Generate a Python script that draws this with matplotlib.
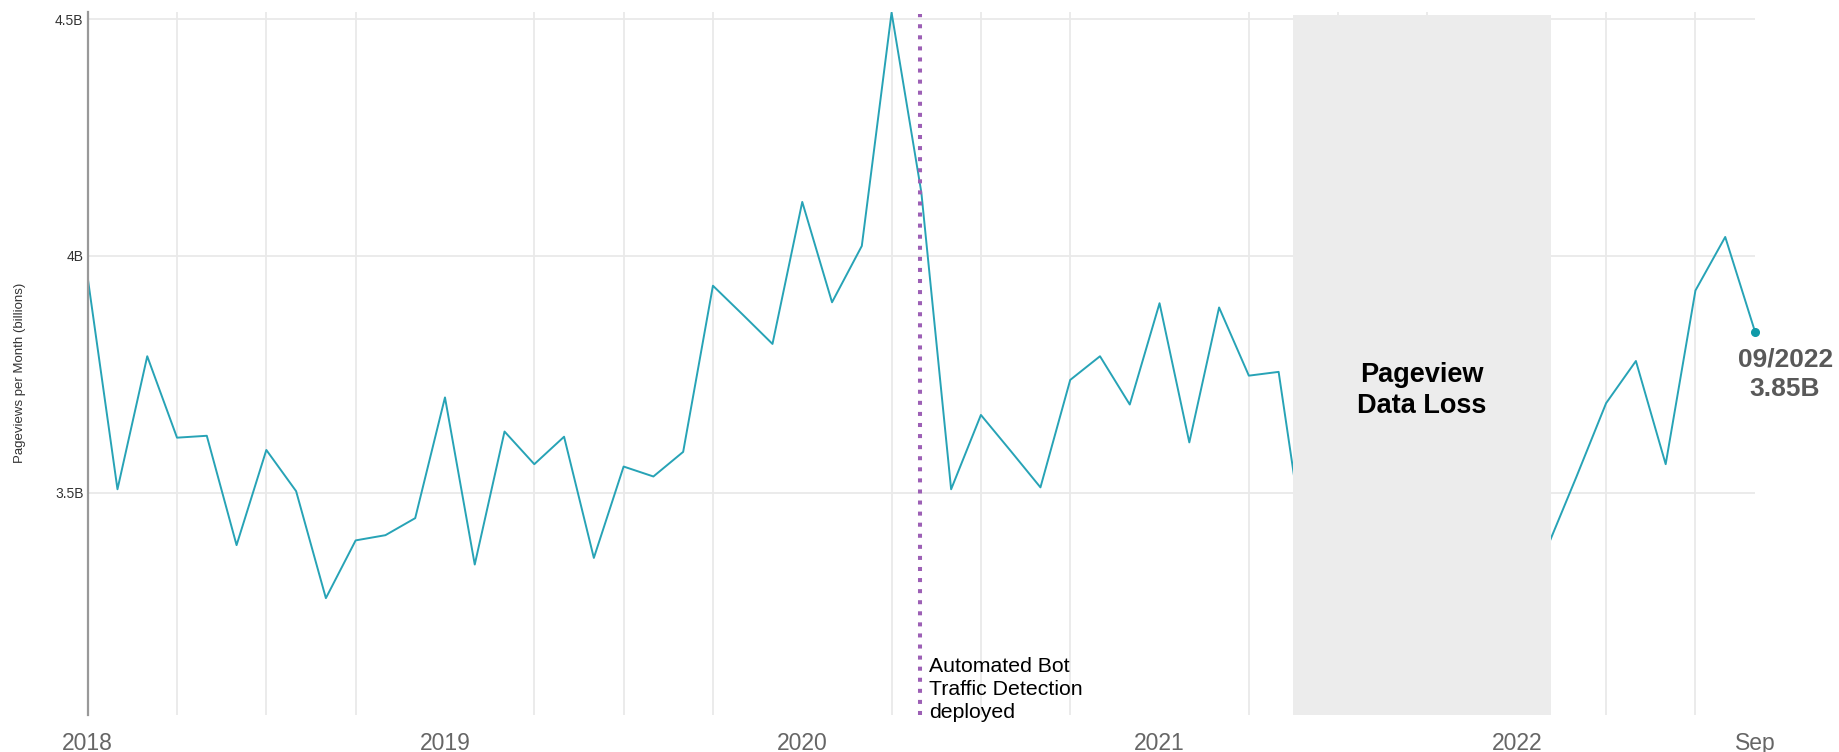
import numpy as np
import matplotlib
matplotlib.use("Agg")
import matplotlib.pyplot as plt
from matplotlib.patches import Rectangle

plt.rcParams['font.family'] = ['Liberation Sans', 'DejaVu Sans']

# ---- data (billions of pageviews per month) ----
months = ['2018-01', '2018-02', '2018-03', '2018-04', '2018-05', '2018-06',
          '2018-07', '2018-08', '2018-09', '2018-10', '2018-11', '2018-12',
          '2019-01', '2019-02', '2019-03', '2019-04', '2019-05', '2019-06',
          '2019-07', '2019-08', '2019-09', '2019-10', '2019-11', '2019-12',
          '2020-01', '2020-02', '2020-03', '2020-04', '2020-05', '2020-06',
          '2020-07', '2020-08', '2020-09', '2020-10', '2020-11', '2020-12',
          '2021-01', '2021-02', '2021-03', '2021-04', '2021-05', '2021-06',
          '2021-07', '2021-08', '2021-09', '2021-10', '2021-11', '2021-12',
          '2022-01', '2022-02', '2022-03', '2022-04', '2022-05', '2022-06',
          '2022-07', '2022-08', '2022-09']
pageviews = [3.954, 3.507, 3.788, 3.616, 3.620, 3.389, 3.590, 3.503, 3.277, 3.399, 3.410, 3.446,
             3.701, 3.348, 3.629, 3.560, 3.618, 3.362, 3.555, 3.534, 3.586, 3.937, 3.876, 3.814,
             4.114, 3.902, 4.021, 4.514, 4.134, 3.507, 3.664, 3.588, 3.511, 3.738, 3.788, 3.686,
             3.900, 3.606, 3.891, 3.747, 3.755, 3.330, np.nan, np.nan, np.nan, np.nan, np.nan, np.nan,
             np.nan, 3.381, 3.533, 3.689, 3.778, 3.560, 3.927, 4.040, 3.840]

tick_months = ['2018-01', '2019-01', '2020-01', '2021-01', '2022-01', '2022-09']
tick_labels = ['2018', '2019', '2020', '2021', '2022', 'Sep']
grid_months = [m for m in months if m[5:] in ('01', '04', '07', '10')]
ytick_values = [3.5, 4.0, 4.5]
ytick_labels = ['3.5B', '4B', '4.5B']

bot_month = 27.96          # position (month index) of bot-detection deployment
loss_start, loss_end = 40.47, 49.15   # data-loss period (month index)
last_label = '09/2022\n3.85B'

# ---- figure ----
W, H = 1839, 752
fig = plt.figure(figsize=(W / 100, H / 100), dpi=100)
ax = fig.add_axes([87.7 / W, 1 - 714.6 / H, (1755 - 87.7) / W, (714.6 - 12.1) / H])

x = np.arange(len(months))
idx = {m: i for i, m in enumerate(months)}

ymin, ymax = 3.031, 4.515
ax.set_xlim(0, len(months) - 1)
ax.set_ylim(ymin, ymax)

# grid
ax.set_xticks([idx[m] for m in grid_months], minor=True)
ax.set_xticks([idx[m] for m in tick_months])
ax.set_xticklabels(tick_labels)
ax.set_yticks(ytick_values)
ax.set_yticklabels(ytick_labels)
ax.grid(False)
ax.grid(True, which='minor', axis='x', color='#e9e9e9', lw=1.3, zorder=0)
ax.grid(True, which='major', axis='y', color='#e9e9e9', lw=1.3, zorder=0)
ax.set_axisbelow(True)

ax.tick_params(axis='x', which='both', length=0, pad=12.5, labelsize=16.5, labelcolor='#666666')
ax.tick_params(axis='y', length=0, pad=3, labelsize=10, labelcolor='#333333')

for s in ('top', 'right', 'bottom'):
    ax.spines[s].set_visible(False)
ax.spines['left'].set_color('#999999')
ax.spines['left'].set_linewidth(1.6)

# line
ax.plot(x, pageviews, color='#27a3b6', lw=1.4, zorder=2)
ax.plot(x[-1], pageviews[-1], 'o', color='#0f9aa8', ms=5.5, zorder=5, clip_on=False)

# data loss rectangle
ax.add_patch(Rectangle((loss_start, ymin), loss_end - loss_start, 4.509 - ymin,
                       facecolor='#ececec', edgecolor='none', zorder=3))
ax.text((loss_start + loss_end) / 2, 3.7146, 'Pageview\nData Loss', ha='center', va='center',
        fontsize=19.5, fontweight='bold', color='black', linespacing=1.25, zorder=6)

# bot detection line
ax.plot([bot_month, bot_month], [ymin, 4.51], color='#9c5fb5', lw=2.9,
        linestyle=(0, (1.0, 1.75)), dash_capstyle='butt', zorder=4, clip_on=False)
ax.text(bot_month + 0.3, 3.0154, 'Automated Bot\nTraffic Detection\ndeployed', ha='left', va='bottom',
        fontsize=15.3, color='black', linespacing=1.25, zorder=6, clip_on=False)

# last value label
ax.text(57.01, 3.7505, last_label, ha='center', va='center', fontsize=19, fontweight='bold',
        color='#595959', linespacing=1.3, zorder=6, clip_on=False)

# y label
fig.text(20 / W, 1 - 373 / H, 'Pageviews per Month (billions)', rotation=90, ha='center', va='center',
         fontsize=9.5, color='#333333')

fig.savefig('out.png', dpi=100)
